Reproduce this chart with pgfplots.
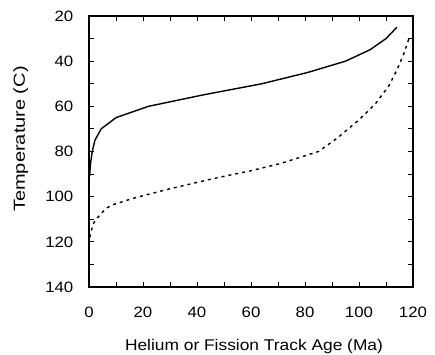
\documentclass[border=0pt]{standalone}
\usepackage{fontspec}
\setmainfont{Liberation Sans}[FakeStretch=1.12]
\newfontfamily\ylabfont{Liberation Sans}[FakeStretch=1.25]
\usepackage{pgfplots}
\pgfplotsset{compat=1.18}

\begin{document}
\begin{tikzpicture}
\begin{axis}[
  scale only axis, width=324pt, height=271pt,
  xmin=0, xmax=120, ymin=20, ymax=140, y dir=reverse,
  xtick={0,20,...,120}, ytick={20,40,...,140},
  minor xtick={10,30,...,110}, minor ytick={30,50,...,130},
  tick align=inside, major tick length=5pt, minor tick length=5pt,
  every tick/.style={black, line width=1pt},
  axis line style={line width=1.3pt},
  /pgf/number format/assume math mode=true,
  tick label style={font=\fontsize{15}{18}\selectfont, inner sep=0pt},
  xticklabel style={anchor=north, yshift=-20pt},
  yticklabel style={anchor=east, xshift=-15.5pt},
  xlabel={Helium or Fission Track Age (Ma)},
  ylabel={Temperature (C)},
  every axis x label/.style={at={(axis description cs:0.5,0)}, anchor=north,
    inner sep=0pt, xshift=3pt, yshift=-52.5pt, font=\fontsize{15.5}{18}\selectfont},
  every axis y label/.style={at={(axis description cs:0,0.5)}, xshift=-60.7pt,
    yshift=12.5pt, rotate=90, anchor=south, inner sep=0pt,
    font=\ylabfont\fontsize{16}{19}\selectfont},
]
% helium age curve
\addplot[black, line width=1.4pt, mark=none] coordinates {
  (0.2,91) (0.6,85) (1.2,80) (2.2,75) (4.5,70) (10,65) (22,60)
  (42,55) (64,50) (81,45) (95,40) (104,35) (110,30) (114,25)
};
% fission track age curve
\addplot[black, line width=1.4pt, mark=none, dash pattern=on 3pt off 4pt] coordinates {
  (0.3,118) (1,114.5) (1.8,111.5) (3,109.5) (4.5,107.5) (6.5,105) (9,103.5)
  (17,100.5) (30,96.5) (46,92) (60,88.5) (71,85.3) (85,80)
  (92,74) (100,66) (106,59) (111,51) (114,44) (116.5,37) (118.5,30)
};
\end{axis}
\pgfresetboundingbox
\path[use as bounding box] (-89pt,-67pt) rectangle (346pt,287pt);
\end{tikzpicture}
\end{document}
